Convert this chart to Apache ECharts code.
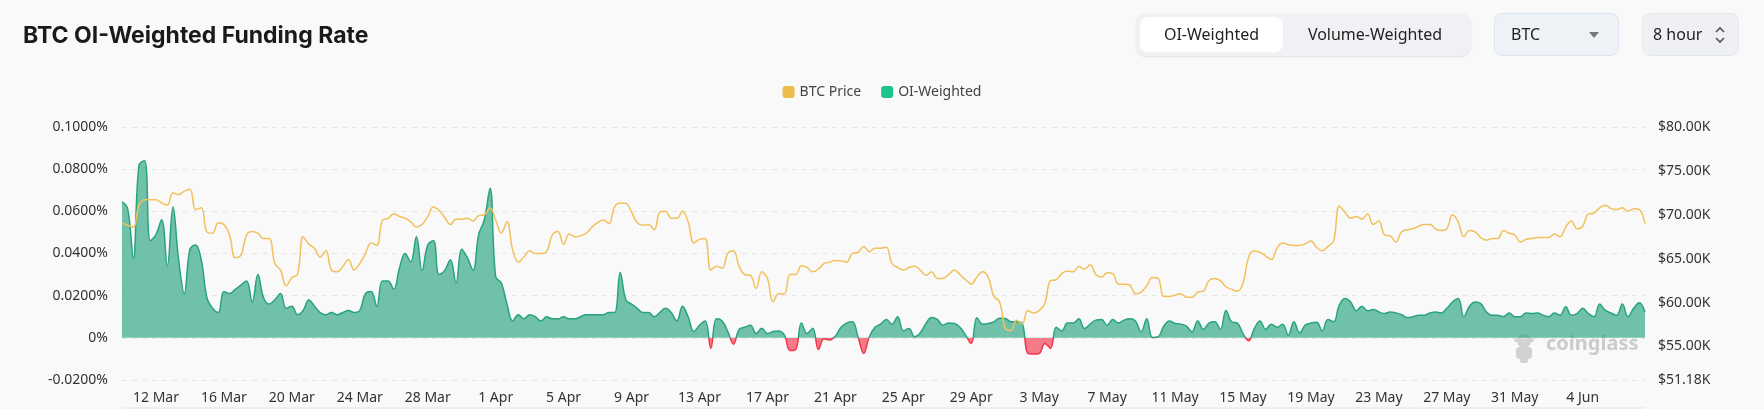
<!DOCTYPE html>
<html>
<head>
<meta charset="utf-8">
<script src="https://cdn.jsdelivr.net/npm/echarts@6/dist/echarts.min.js"></script>
<style>
html,body{margin:0;padding:0;background:#f9f9f9;}
#wrap{position:relative;width:1764px;height:409px;overflow:hidden;background:#f9f9f9;}
#chart{position:absolute;left:0;top:0;width:1764px;height:409px;}
.box{position:absolute;box-sizing:border-box;font-family:'Noto Sans',sans-serif;color:#222;font-size:16px;}
#seg{left:1136px;top:13px;width:335px;height:43px;background:#f0f1f4;border-radius:10px;box-shadow:0 1px 2px rgba(0,0,0,0.10);}
#seg .pill{position:absolute;left:4px;top:4px;width:143px;height:35px;background:#fff;border-radius:8px;line-height:35px;text-align:center;}
#seg .opt{position:absolute;left:147px;top:4px;width:184px;height:35px;line-height:35px;text-align:center;}
#sel{left:1494px;top:13px;width:125px;height:43px;background:#eef1f5;border:1px solid #dde6ee;border-radius:8px;line-height:41px;padding-left:16px;}
#sel .caret{position:absolute;left:94px;top:18px;width:0;height:0;border-left:5px solid transparent;border-right:5px solid transparent;border-top:6px solid #777;}
#per{left:1642px;top:13px;width:97px;height:43px;background:#eef0f3;border:1px solid #e4e7eb;border-radius:8px;line-height:41px;padding-left:10px;}
#per .chev{position:absolute;left:71px;top:10px;width:12px;height:22px;}
</style>
</head>
<body>
<div id="wrap">
<div id="chart"></div>
<div id="seg" class="box"><div class="pill">OI-Weighted</div><div class="opt">Volume-Weighted</div></div>
<div id="sel" class="box">BTC<span class="caret"></span></div>
<div id="per" class="box">8 hour<svg class="chev" viewBox="0 0 12 22"><polyline points="2,8 6,4 10,8" fill="none" stroke="#555" stroke-width="1.6"/><polyline points="2,14 6,18 10,14" fill="none" stroke="#555" stroke-width="1.6"/></svg></div>
</div>
<script>
// ---- data (8-hour steps starting 10 Mar 2024 00:00 UTC) ----
const startTime = Date.UTC(2024, 2, 10, 0, 0, 0);
const stepHours = 8;
const monthNames = ['Jan','Feb','Mar','Apr','May','Jun','Jul','Aug','Sep','Oct','Nov','Dec'];
const leftTickLabels = ['-0.0200%','0%','0.0200%','0.0400%','0.0600%','0.0800%','0.1000%'];

// OI-weighted funding rate, in %
const fundingRate = [
 0.0645,0.0613,0.0376,0.082,0.084,0.046,0.049,0.056,0.034,0.062,
 0.037,0.021,0.042,0.044,0.037,0.019,0.014,0.012,0.022,0.021,
 0.023,0.025,0.027,0.017,0.030,0.019,0.016,0.018,0.021,0.014,
 0.015,0.011,0.013,0.018,0.015,0.012,0.011,0.012,0.011,0.012,
 0.013,0.012,0.013,0.021,0.022,0.015,0.027,0.027,0.023,0.033,
 0.040,0.036,0.048,
 0.032,0.044,0.046,0.030,0.032,0.037,0.026,0.042,0.038,0.032,
 0.049,0.056,0.071,0.029,0.026,0.016,0.008,0.011,0.009,0.011,
 0.010,0.008,0.010,0.009,0.009,0.010,0.009,0.009,0.010,0.011,
 0.011,0.011,0.011,0.012,0.012,0.031,0.018,0.016,0.014,0.012,
 0.012,0.010,0.012,0.014,0.012,0.008,0.015,0.010,0.003,0.006,
 0.008,-0.005,0.009,0.008,0.003,
 -0.003,0.004,0.005,0.006,0.002,0.0045,0.002,0.003,0.0033,0.0013,
 -0.006,-0.0055,0.007,0.002,0.0045,-0.0055,-0.0005,-0.001,0.0008,0.005,
 0.007,0.0076,0.0005,-0.0074,0.0005,0.005,0.0065,0.0087,0.0065,0.010,
 0.0033,0.0044,0.0005,0.0024,0.0068,0.0096,0.0087,0.006,0.007,0.0068,
 0.005,0.0013,-0.0027,0.0095,0.0065,0.0068,0.0076,0.0093,0.0092,0.0076,
 0.0076,0.0068,-0.0074,-0.0077,-0.0074,
 -0.0027,-0.005,0.005,0.0033,0.007,0.007,0.009,0.0044,0.0065,0.0084,
 0.0087,0.006,0.0087,0.007,0.0084,0.009,0.008,0.0028,0.009,0.0002,
 0.0005,0.0055,0.008,0.0068,0.0065,0.0055,0.0028,0.008,0.004,0.007,
 0.0076,0.004,0.013,0.0076,0.007,0.002,-0.0014,0.0044,0.008,0.004,
 0.0065,0.005,0.0065,0.0013,0.0076,0.0024,0.006,0.007,0.0074,0.0033,
 0.0087,0.0076,0.0155,0.0186,
 0.017,0.0128,0.015,0.0128,0.0134,0.0123,0.0115,0.0123,0.0118,0.011,
 0.0096,0.010,0.0107,0.0107,0.0118,0.0123,0.0118,0.014,0.017,0.0186,
 0.010,0.015,0.017,0.0163,0.0123,0.0107,0.0107,0.010,0.0118,0.010,
 0.010,0.0118,0.0115,0.0118,0.0107,0.010,0.0118,0.0107,0.0147,0.0107,
 0.0115,0.014,0.0115,0.010,0.016,0.013,0.0118,0.0107,0.016,0.010,
 0.014,0.0166,0.0123
];

// BTC price, in thousands of USD
const btcPrice = [
 69.08,68.8,68.6,71.1,71.7,71.7,71.7,71.35,71.1,72.5,
 72.3,72.7,72.9,70.6,70.8,68.05,67.9,69.1,68.9,67.7,
 65.1,65.4,67.7,68.1,67.9,67.3,67.3,64.45,63.7,61.9,
 62.85,63.2,67.5,66.65,66.2,65.2,65.9,63.7,63.5,64.1,
 64.9,63.7,64.45,65.6,66.8,66.5,69.4,69.6,70.1,69.8,
 69.6,69.2,68.6,
 68.9,69.8,70.9,70.5,69.7,68.9,69.5,69.5,69.6,69.3,
 69.9,70.0,70.8,69.4,67.9,69.2,66.0,64.6,65.2,65.9,
 65.6,65.6,65.8,67.7,68.1,66.65,67.8,67.5,67.6,67.9,
 68.6,69.1,69.4,69.0,70.9,71.35,71.3,70.3,69.1,68.8,
 68.9,68.3,70.3,70.4,69.6,69.6,70.4,69.2,66.8,67.2,
 67.3,63.7,64.15,63.9,65.6,
 65.9,64.1,63.2,63.1,61.6,63.5,62.75,60.1,61.0,61.0,
 63.2,63.2,64.2,64.0,63.5,63.8,64.45,64.6,64.8,64.75,
 64.6,65.6,65.7,66.4,65.8,66.2,66.2,66.3,64.45,64.0,
 63.7,64.0,64.15,63.7,63.1,63.5,62.75,62.75,63.2,63.7,
 63.2,62.6,62.1,62.9,63.5,62.9,60.7,60.1,57.06,56.8,
 58.0,57.6,59.1,58.8,59.1,
 59.9,62.5,62.6,63.3,63.6,63.5,64.1,63.8,64.3,63.2,
 62.9,63.4,63.3,62.1,62.1,62.0,61.0,61.2,61.9,62.85,
 62.75,60.7,60.7,60.85,61.0,60.6,60.6,61.2,61.3,62.5,
 62.75,62.5,61.8,61.5,61.3,62.2,65.2,65.9,65.7,65.3,
 64.9,66.2,66.8,66.6,66.5,66.5,66.7,67.0,66.3,65.9,
 66.4,67.0,71.0,70.3,
 69.6,69.8,69.5,70.1,68.9,69.3,67.7,67.6,66.9,68.05,
 68.3,68.4,68.7,68.9,68.9,68.4,68.2,68.4,70.0,69.2,
 67.5,68.2,68.05,67.4,67.1,67.3,67.3,68.2,67.9,67.7,
 66.9,67.2,67.3,67.4,67.4,67.4,67.8,67.5,68.6,69.3,
 68.4,68.7,70.1,70.2,70.8,71.1,70.7,70.6,70.8,70.4,
 70.7,70.6,69.0
];

const categories = fundingRate.map((_, i) => startTime + i * stepHours * 3600 * 1000);

function fmtDate(ts) {
  const d = new Date(Number(ts));
  return d.getUTCDate() + ' ' + monthNames[d.getUTCMonth()];
}

const GREEN = '#27a37f';
const RED = '#f4364c';
const gridTop = 127, gridBottom = 29, chartH = 409;

const chart = echarts.init(document.getElementById('chart'), null, {renderer: 'canvas'});
const axisFont = {fontFamily: 'Noto Sans', fontSize: 14, color: '#333'};

chart.setOption({
  backgroundColor: '#f9f9f9',
  animation: false,
  title: {
    text: 'BTC OI-Weighted Funding Rate',
    left: 18, top: 20,
    textStyle: {fontFamily: 'Inter', fontWeight: 700, fontSize: 23, color: '#1a1a1a'}
  },
  legend: {
    top: 80, left: 'center',
    icon: 'roundRect', itemWidth: 12, itemHeight: 12, itemGap: 20,
    textStyle: {fontFamily: 'Noto Sans', fontSize: 14, color: '#444'},
    data: [
      {name: 'BTC Price', itemStyle: {color: '#ecbc4e'}},
      {name: 'OI-Weighted', itemStyle: {color: '#1dc48a'}}
    ]
  },
  grid: {left: 122, right: 119, top: gridTop, bottom: gridBottom, containLabel: false},
  xAxis: {
    type: 'category',
    data: categories,
    boundaryGap: false,
    axisLine: {show: false},
    axisTick: {show: false},
    splitLine: {show: false},
    axisLabel: Object.assign({}, axisFont, {
      margin: 11,
      interval: function (index) { return index % 12 === 6; },
      formatter: fmtDate
    })
  },
  yAxis: [
    {
      type: 'value',
      min: -0.02, max: 0.1, interval: 0.02,
      axisLine: {show: false}, axisTick: {show: false},
      splitLine: {lineStyle: {type: [5, 5], color: '#e6e6e6', width: 1}},
      axisLabel: Object.assign({}, axisFont, {
        margin: 14,
        formatter: function (v) {
          const idx = Math.round((v + 0.02) / 0.02);
          return leftTickLabels[idx];
        }
      })
    },
    {
      type: 'value',
      min: 51.18, max: 80,
      position: 'right',
      axisLine: {show: false}, axisTick: {show: false},
      splitLine: {show: false},
      axisLabel: Object.assign({}, axisFont, {
        margin: 13,
        formatter: function (v) { return '$' + v.toFixed(2) + 'K'; }
      })
    }
  ],
  series: [
    {
      name: 'BTC Price',
      type: 'line',
      yAxisIndex: 1,
      data: btcPrice,
      smooth: 0.4,
      showSymbol: false,
      z: 4,
      lineStyle: {color: '#f2c05c', width: 1.5},
      itemStyle: {color: '#ecbc4e'}
    },
    {
      name: 'OI-Weighted',
      type: 'line',
      yAxisIndex: 0,
      data: fundingRate,
      smooth: 0.4,
      showSymbol: false,
      z: 2,
      lineStyle: {width: 1.5, color: GREEN},
      areaStyle: {opacity: 0.65, color: GREEN},
      itemStyle: {color: '#1dc48a'}
    }
  ],
  graphic: [
    {
      type: 'group', left: 1514, top: 334, silent: true,
      children: [
        {type: 'circle', shape: {cx: 12, cy: 7, r: 7}, style: {fill: '#d2d2d2'}},
        {type: 'rect', shape: {x: 2, y: 4, width: 20, height: 4, r: 2}, style: {fill: '#d2d2d2'}},
        {type: 'rect', shape: {x: 4, y: 13, width: 16, height: 12, r: 4}, style: {fill: '#d2d2d2'}},
        {type: 'rect', shape: {x: 8, y: 24, width: 8, height: 5, r: 2}, style: {fill: '#d2d2d2'}}
      ]
    },
    {
      type: 'text', left: 1546, top: 334, silent: true,
      style: {text: 'coinglass', fontFamily: 'Noto Sans', fontWeight: 700, fontSize: 20, fill: '#cbcbcb'}
    },
    {
      type: 'rect', left: 122, top: 407, silent: true,
      shape: {width: 1523, height: 2},
      style: {fill: '#eceef6'}
    }
  ]
});

// colour the funding series red below the zero line, green above it
const zeroY = chart.convertToPixel({yAxisIndex: 0}, 0);
const y0 = gridTop, y1 = chartH - gridBottom;
const f = Math.min(1, Math.max(0, (zeroY - y0) / (y1 - y0)));
function splitGradient() {
  return new echarts.graphic.LinearGradient(0, y0, 0, y1, [
    {offset: 0, color: GREEN}, {offset: f, color: GREEN},
    {offset: f, color: RED}, {offset: 1, color: RED}
  ], true);
}
chart.setOption({
  series: [{}, {
    lineStyle: {color: splitGradient()},
    areaStyle: {color: splitGradient(), opacity: 0.65}
  }]
});
</script>
</body>
</html>
